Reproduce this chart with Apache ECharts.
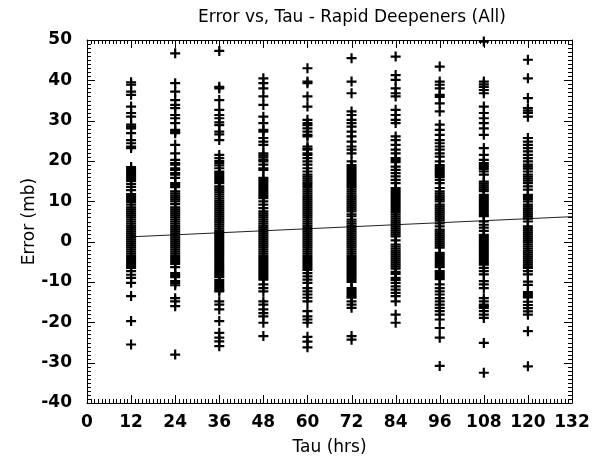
<!DOCTYPE html>
<html>
<head>
<meta charset="utf-8">
<script src="https://cdn.jsdelivr.net/npm/echarts@6/dist/echarts.min.js"></script>
<style>html,body{margin:0;padding:0;background:#fff;}#c{width:600px;height:465px;}</style>
</head>
<body>
<div id="c"></div>
<script>
var titleText = 'Error vs, Tau - Rapid Deepeners (All)';
var xName = 'Tau (hrs)';
var yName = 'Error (mb)';
var tauValues = [12, 24, 36, 48, 60, 72, 84, 96, 108, 120];

var c12 = [39.5, 38.9, 37.2, 36.4, 33.5, 31.9, 31.0, 29.0, 28.5, 28.1, 26.9, 25.2, 24.4, 23.6, 23.2,
  18.5, 18, 17.5, 17, 16.5, 16, 15.5, 15, 14.3, 13.6, 12.8, 11.8, 11.3, 10.8, 10.3, 9.8, 9.2,
  8.5, 8, 7.5, 7, 6.5, 6, 5.5, 5, 4.5, 4, 3.5, 3, 2.5, 2, 1.5, 1, 0.5, 0, -0.5, -1, -1.5, -2,
  -2.5, -3, -3.5, -4, -4.5, -5, -5.5, -6, -6.5,
  -7.3, -8.2, -9.0, -10.2, -13.5, -19.7, -25.5];
var c24 = [46.7, 39.3, 37.2, 35.1, 33.9, 33.1, 31.4, 30.6, 29.4, 27.7, 27.3, 26.9, 24.0, 21.9, 20.3,
  19.5, 19.1, 18.2, 17.8, 17.0, 16.6, 15.8,
  14.5, 14, 13.5, 12.5, 12, 11.5, 11, 10.5, 10, 9.3, 8.5, 8, 7.5, 7, 6.5, 6, 5.5, 5, 4.5, 4,
  3.5, 3, 2.5, 2, 1.5, 1, 0.5, 0, -0.5, -1, -1.5, -2, -2.5, -3, -3.5, -4, -4.5, -5, -5.5,
  -6.3, -7.8, -8.3, -8.8, -9.8, -10.3, -10.8,
  -14, -14.8, -16, -28];
var c36 = [47.3, 38.4, 38.0, 35.1, 32.7, 31.4, 30.6, 29.6, 28.9, 27.3, 26.6, 25.2, 21.5, 20.7, 20.0,
  19.5, 18.9, 18.2,
  17.4, 17, 16.5, 16, 15.5, 15, 14.5, 13.7, 13.2, 12.7, 12.2, 11.7, 11.2, 10.7, 10.2, 9.7, 9.2,
  8.7, 8.2, 7.7, 7.2, 6.7, 6.2, 5.7, 5.2, 4.7, 4.2, 3.7, 3.2, 2.7, 2.2, 1.7, 1.2, 0.7, 0.2,
  -0.3, -0.8, -1.3, -1.8, -2.3, -2.8, -3.3, -3.8, -4.3, -4.8, -5.3, -5.8, -6.3, -6.8, -7.3,
  -7.8, -8.3, -8.8, -9.5, -10, -10.5, -11, -11.5, -12, -12.3,
  -14.8, -15.6, -16.8, -19.7, -22.6, -23.8, -24.7, -25.9];
var c48 = [40.5, 39.3, 38.0, 36.0, 33.9, 31.0, 29.4, 27.7, 27.3, 25.7, 24.8, 24.0,
  21.9, 21.4, 20.9, 20.3, 19.9, 19.1, 18.2, 17.8,
  15.8, 15.3, 14.8, 14.3, 13.8, 13.3, 12.8, 12.3, 11.8, 11.3, 10.8, 10.0, 9.2, 8.3,
  7.5, 7, 6.5, 6, 5.5, 5, 4.5, 4, 3.5, 3, 2.5, 2, 1.5, 1, 0.5, 0, -0.5, -1, -1.5, -2, -2.5,
  -3, -3.5, -4, -4.5, -5, -5.5, -6, -6.5, -7, -7.5, -8, -8.5, -9, -9.4,
  -10.6, -11.5, -12.3, -14.8, -15.6, -16.8, -17.7, -18.5, -20.1, -23.4];
var c60 = [43.0, 39.7, 39.3, 36.0, 33.5, 30.2, 29.4, 28.9, 28.1, 27.3, 26.5, 26.1, 23.6, 23.1, 22.8,
  21.9, 21.5, 20.7, 19.9, 19.1, 18.2, 17.4, 16.6, 16.1, 15.6, 15.1, 14.6, 14.1,
  13.5, 13, 12.5, 12, 11.5, 11, 10.5, 10, 9.5, 9, 8.5, 8, 7.5, 7, 6.5, 6, 5.5, 5, 4.5, 4, 3.5,
  3, 2.5, 2, 1.5, 1, 0.5, 0, -0.5, -1, -1.5, -2, -2.5, -3, -3.5, -4, -4.5, -5, -5.5, -6, -6.5, -7,
  -7.8, -8.6, -9.4, -10.2, -11.5, -12.3, -13.1, -13.9, -14.8, -17.2, -18.5, -19.3, -20.1,
  -23.6, -24.8, -26.2];
var c72 = [45.5, 39.7, 36.8, 32.3, 31.4, 30.2, 29.4, 28.5, 27.3, 26.1, 24.8, 23.6, 22.8, 21.9, 19.9,
  19, 18.5, 18, 17.5, 17, 16.5, 16, 15.5, 15, 14.5, 14, 13.5, 13, 12.5, 12, 11.5, 11, 10.5, 10,
  9.5, 9, 8.5, 8, 7.5, 6.8, 6.3, 5.5, 5, 4.5, 4, 3.5, 3, 2.5, 2, 1.5, 1, 0.5, 0, -0.5, -1, -1.5,
  -2, -2.5, -3, -3.5, -4, -4.5, -5, -5.5, -6, -6.5, -7, -7.5, -8, -8.5, -9, -9.5, -10,
  -11.5, -12, -12.5, -13, -13.5, -13.9, -14.8, -15.6, -16.4, -23.4, -24.3];
var c84 = [45.9, 41.3, 40.1, 38.0, 36.8, 36.0, 32.7, 31.4, 30.2, 29.4, 26.1, 25.2, 24.0, 22.8, 21.9,
  20.7, 20.2, 19.7, 18.6, 17.8, 17.0, 16.2, 15.3, 14.5,
  13.3, 12.8, 12.3, 11.8, 11.3, 10.8, 10.3, 9.8, 9.3, 8.8, 8.3, 7.8, 7.3, 6.8, 6.3, 5.8, 5.3,
  4.8, 4.3, 3.8, 3.3, 2.8, 2.3, 1.8, 1.3, 0.3, -0.7, -1.2, -1.7, -2.2, -2.7, -3.2, -3.7, -4.2,
  -4.7, -5.2, -5.7, -6.2, -6.7, -7.5, -8, -9, -9.5, -10.2,
  -11.1, -11.9, -12.7, -13.5, -14.8, -18.1, -20.1];
var c96 = [43.4, 39.7, 38.9, 38.0, 36.4, 35.9, 34.3, 32.3, 29.0, 27.7, 26.5, 25.2, 24.4, 23.6, 22.8,
  21.9, 21.1, 19.9,
  19, 18.5, 18, 17.5, 17, 16.5, 16, 15.3, 14.5, 13.3, 12.5, 12, 11.5, 11, 10.5, 10, 9.2, 8.7,
  8.2, 7.7, 7.2, 6.7, 6.2, 5.7, 5.2, 4.5, 3.8, 3, 2.5, 2, 1.5, 1, 0.5, 0, -0.5, -1, -1.5,
  -2.8, -3.3, -3.8, -4.3, -4.8, -5.3, -5.8, -6.3, -7.3, -7.8, -8.3, -8.8, -9.3,
  -10.6, -11.5, -12.3, -13.1, -14, -14.8, -15.6, -16.4, -17.2, -18.1, -19.3, -21.4, -23.8, -30.8];
var c108 = [49.6, 39.7, 39.0, 38.4, 37.6, 36.8, 33.5, 31.9, 30.6, 29.4, 28.1, 26.5, 23.2, 21.5, 20.3,
  19.5, 19, 18.5, 18, 17.4, 16.6,
  14.9, 14.4, 13.9, 13.4, 12.9, 12.5, 11.6, 11.1, 10.6, 10.1, 9.6, 9.1, 8.6, 8.1, 7.6, 7.1,
  6.6, 6.3, 5, 4.2, 3.5, 2.7, 1.7, 1.2, 0.7, 0.2, -0.3, -0.8, -1.3, -1.8, -2.3, -2.8, -3.3,
  -3.8, -4.3, -4.8, -5.3, -5.7, -6.5, -7.3, -8.1,
  -9.8, -10.6, -11.5, -14, -14.8, -15.6, -16, -16.4, -17.2, -18.1, -18.9, -25.1, -32.5];
var c120 = [45.1, 40.5, 35.6, 33.1, 32.5, 31.9, 31.0, 25.7, 24.8, 24.0, 23.2, 22.4, 21.5, 20.7, 19.9,
  19.1, 18.6, 18.1, 17.4, 16.6, 16.1, 15.6, 15.1, 14.5, 13.7, 12.9, 11.6, 11.1, 10.6, 10, 9.2,
  8.7, 8.2, 7.7, 7.2, 6.7, 6.2, 5.7, 5.0, 3.8, 3.3, 2.8, 2.3, 1.8, 1.3, 0.8, 0.3, -0.2, -0.7,
  -1.2, -1.7, -2.2, -2.7, -3.2, -3.7, -4.2, -4.7, -5.2, -5.7, -6.2, -6.5, -7.3, -8.1,
  -9.9, -10.7, -12.5, -13, -13.5, -13.8, -14.9, -15.7, -16.5, -17.3, -18.1, -22.2, -30.9];

var fitX = [12, 132];
var fitY = [1.2, 6.2];

var columns = [c12, c24, c36, c48, c60, c72, c84, c96, c108, c120];
var scatterData = [];
for (var i = 0; i < tauValues.length; i++) {
  for (var j = 0; j < columns[i].length; j++) {
    scatterData.push([tauValues[i], columns[i][j]]);
  }
}
var fitData = fitX.map(function (x, k) { return [x, fitY[k]]; });

var FONT = 'DejaVu Sans';
var plusPath = 'path://M0,3.9H10V6.1H0Z M3.9,0H6.1V10H3.9Z';

var XR = { min: 0, max: 132, interval: 12, minor: 1 };
var YR = { min: -40, max: 50, interval: 10, minor: 1 };

var axisLineStyle = { show: true, onZero: false, lineStyle: { color: '#000', width: 1 } };

var chart = echarts.init(document.getElementById('c'), null, { renderer: 'canvas' });
chart.setOption({
  animation: false,
  backgroundColor: '#fff',
  title: {
    text: titleText, left: 347, top: 4, textAlign: 'center',
    textStyle: { fontFamily: FONT, fontSize: 17, fontWeight: 'normal', color: '#000' }
  },
  grid: { left: 87, right: 28, top: 40, bottom: 62 },
  xAxis: [
    {
      type: 'value', position: 'bottom', min: XR.min, max: XR.max, interval: XR.interval,
      name: xName, nameLocation: 'middle', nameGap: 36, nameMoveOverlap: false,
      nameTextStyle: { fontFamily: FONT, fontSize: 17, color: '#000' },
      axisLine: axisLineStyle, axisTick: { show: false }, minorTick: { show: false },
      axisLabel: { show: true, margin: 11, fontFamily: FONT, fontSize: 17, fontWeight: 'bold', color: '#000' },
      splitLine: { show: false }
    },
    {
      type: 'value', position: 'top', min: XR.min, max: XR.max, interval: XR.interval,
      axisLine: axisLineStyle, axisTick: { show: false }, minorTick: { show: false },
      axisLabel: { show: false }, splitLine: { show: false }
    }
  ],
  yAxis: [
    {
      type: 'value', position: 'left', min: YR.min, max: YR.max, interval: YR.interval,
      name: yName, nameLocation: 'middle', nameGap: 49, nameRotate: 90, nameMoveOverlap: false,
      nameTextStyle: { fontFamily: FONT, fontSize: 17, color: '#000' },
      axisLine: axisLineStyle, axisTick: { show: false }, minorTick: { show: false },
      axisLabel: { show: true, margin: 15, fontFamily: FONT, fontSize: 17, fontWeight: 'bold', color: '#000' },
      splitLine: { show: false }
    },
    {
      type: 'value', position: 'right', min: YR.min, max: YR.max, interval: YR.interval,
      axisLine: axisLineStyle, axisTick: { show: false }, minorTick: { show: false },
      axisLabel: { show: false }, splitLine: { show: false }
    }
  ],
  series: [
    {
      type: 'line', data: fitData, xAxisIndex: 0, yAxisIndex: 0,
      showSymbol: false, lineStyle: { color: '#222', width: 1 }, z: 1
    },
    {
      type: 'scatter', data: scatterData, xAxisIndex: 0, yAxisIndex: 0,
      symbol: plusPath, symbolSize: 10, itemStyle: { color: '#000', opacity: 1 }, z: 2
    }
  ]
});

// Inward box ticks (IDL style), positioned through the chart's own axis scales.
var tickGfx = [];
var st = { stroke: '#000', lineWidth: 1 };
function px(x, y) { return chart.convertToPixel({ gridIndex: 0 }, [x, y]); }
for (var tx = XR.min; tx <= XR.max; tx += XR.minor) {
  var lenX = (tx % XR.interval === 0) ? 8 : 4;
  var pb = px(tx, YR.min), pt = px(tx, YR.max);
  var xb = Math.round(pb[0]) + 0.5;
  tickGfx.push({ type: 'line', silent: true, z: 100, shape: { x1: xb, y1: pb[1], x2: xb, y2: pb[1] - lenX }, style: st });
  tickGfx.push({ type: 'line', silent: true, z: 100, shape: { x1: xb, y1: pt[1], x2: xb, y2: pt[1] + lenX }, style: st });
}
for (var ty = YR.min; ty <= YR.max; ty += YR.minor) {
  var lenY = (ty % YR.interval === 0) ? 8 : 4;
  var pl = px(XR.min, ty), pr = px(XR.max, ty);
  var yy = Math.round(pl[1]) + 0.5;
  tickGfx.push({ type: 'line', silent: true, z: 100, shape: { x1: pl[0], y1: yy, x2: pl[0] + lenY, y2: yy }, style: st });
  tickGfx.push({ type: 'line', silent: true, z: 100, shape: { x1: pr[0], y1: yy, x2: pr[0] - lenY, y2: yy }, style: st });
}
chart.setOption({ graphic: tickGfx });
</script>
</body>
</html>
